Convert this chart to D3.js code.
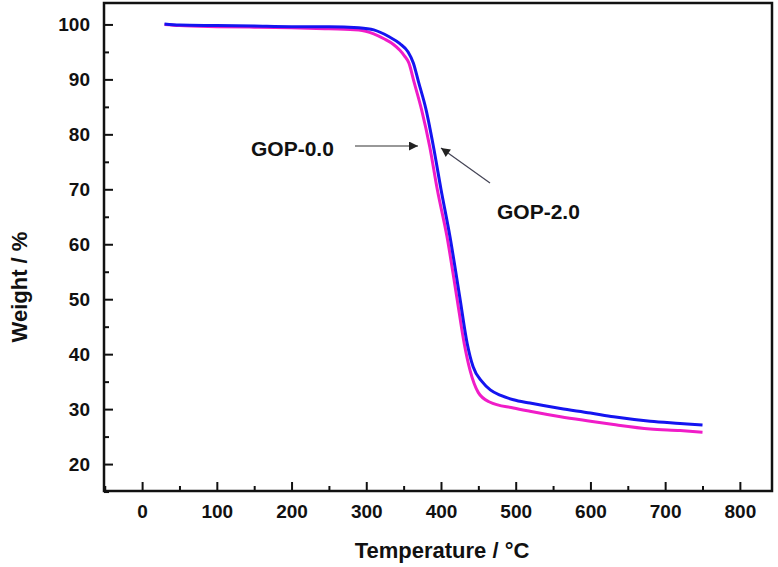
<!DOCTYPE html>
<html><head><meta charset="utf-8">
<script src="https://cdn.jsdelivr.net/npm/d3@7/dist/d3.min.js"></script>
<style>body{margin:0;background:#fff}svg{display:block}</style>
</head><body>
<script>
const seriesNames = ["GOP-0.0", "GOP-2.0"];
const gop00Temp = [30,50,100,150,200,250,290,310,325,336,345,351,357,364,374,385,395,408,421,431,439,450,465,497,519,560,600,631,680,720,750];
const gop00Weight = [100,99.8,99.6,99.5,99.4,99.2,99.0,98.3,97.3,96.4,95.3,94.3,93,89.5,84.5,77.7,70,61.4,50.5,42,37,33,31.3,30.2,29.6,28.6,27.8,27.2,26.4,26.1,25.8];
const gop20Temp = [30,50,100,150,200,250,290,310,330,345,356,363,370,380,390,400,412,425,435,443,455,466,480,497,519,560,600,631,680,720,750];
const gop20Weight = [100.1,99.9,99.8,99.7,99.6,99.6,99.4,99.0,97.8,96.5,95,93,89.5,84.5,77.7,70,61.4,50.5,42,37.7,35,33.5,32.5,31.7,31.1,30.1,29.3,28.6,27.8,27.4,27.1];
const xTicks = [0,100,200,300,400,500,600,700,800];
const yTicks = [20,30,40,50,60,70,80,90,100];
const xTitle = "Temperature / °C";
const yTitle = "Weight / %";

const W = 778, H = 567;
const L = 104, R = 772, T = 3, B = 491;
const x = d3.scaleLinear().domain([-51, 843]).range([L, R]);
const y = d3.scaleLinear().domain([15.1, 103.9]).range([B, T]);

const svg = d3.select("body").append("svg").attr("width", W).attr("height", H);
const font = "'Liberation Sans', Arial, sans-serif";

const xMinor = d3.range(-50, 850, 50).filter(v => v % 100 !== 0 && v > -51);
const yMinor = d3.range(15, 104, 5).filter(v => v % 10 !== 0);

const xAxis = d3.axisBottom(x).tickValues(xTicks).tickSize(-9).tickPadding(14).tickFormat(d3.format("d"));
const yAxis = d3.axisLeft(y).tickValues(yTicks).tickSize(-9).tickPadding(14).tickFormat(d3.format("d"));

const gx = svg.append("g").attr("transform", `translate(0,${B})`).call(xAxis);
gx.append("g").call(d3.axisBottom(x).tickValues(xMinor).tickSize(-5).tickFormat(""));
const gy = svg.append("g").attr("transform", `translate(${L},0)`).call(yAxis);
gy.append("g").call(d3.axisLeft(y).tickValues(yMinor).tickSize(-5).tickFormat(""));
svg.selectAll(".domain").remove();
svg.selectAll(".tick line").attr("stroke", "#111").attr("stroke-width", 2);
svg.selectAll(".tick text").attr("font-family", font).attr("font-weight", "bold")
  .attr("font-size", 19).attr("fill", "#111");
gx.selectAll(".tick text").attr("dy", "0.71em");

svg.append("rect").attr("x", L).attr("y", T).attr("width", R - L).attr("height", B - T)
  .attr("fill", "none").attr("stroke", "#111").attr("stroke-width", 2.5);

const line = d3.line().x(d => x(d[0])).y(d => y(d[1])).curve(d3.curveMonotoneX);
const s0 = gop00Temp.map((t, i) => [t, gop00Weight[i]]);
const s2 = gop20Temp.map((t, i) => [t, gop20Weight[i]]);
svg.append("path").datum(s0).attr("d", line).attr("fill", "none")
  .attr("stroke", "#f01cc8").attr("stroke-width", 3);
svg.append("path").datum(s2).attr("d", line).attr("fill", "none")
  .attr("stroke", "#1414f0").attr("stroke-width", 3);

svg.append("text").attr("x", 442).attr("y", 558).attr("text-anchor", "middle")
  .attr("font-family", font).attr("font-weight", "bold").attr("font-size", 22).attr("fill", "#111").text(xTitle);
svg.append("text").attr("transform", "translate(27,287) rotate(-90)").attr("text-anchor", "middle")
  .attr("font-family", font).attr("font-weight", "bold").attr("font-size", 22).attr("fill", "#111").text(yTitle);

const defs = svg.append("defs");
defs.append("marker").attr("id", "ah").attr("viewBox", "0 0 10 10").attr("refX", 10).attr("refY", 5)
  .attr("markerWidth", 12).attr("markerHeight", 9).attr("markerUnits", "userSpaceOnUse").attr("orient", "auto")
  .append("path").attr("d", "M0,0 L10,5 L0,10 Z").attr("fill", "#222");

svg.append("text").attr("x", 251).attr("y", 156).attr("font-family", font).attr("font-weight", "bold")
  .attr("font-size", 21).attr("fill", "#111").text(seriesNames[0]);
svg.append("line").attr("x1", 355).attr("y1", 146).attr("x2", 418).attr("y2", 146)
  .attr("stroke", "#333").attr("stroke-width", 1.2).attr("marker-end", "url(#ah)");

svg.append("text").attr("x", 497).attr("y", 219).attr("font-family", font).attr("font-weight", "bold")
  .attr("font-size", 21).attr("fill", "#111").text(seriesNames[1]);
svg.append("line").attr("x1", 490).attr("y1", 183).attr("x2", 441).attr("y2", 148)
  .attr("stroke", "#445").attr("stroke-width", 1.2).attr("marker-end", "url(#ah)");
</script>
</body></html>
